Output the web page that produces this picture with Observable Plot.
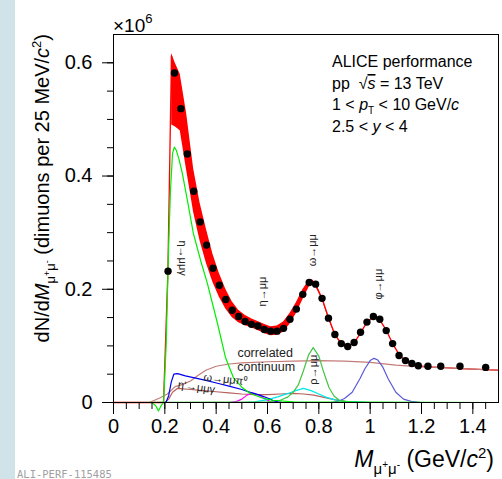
<!DOCTYPE html>
<html><head><meta charset="utf-8">
<script src="https://cdn.jsdelivr.net/npm/d3@7"></script>
<script src="https://cdn.jsdelivr.net/npm/@observablehq/plot@0.6"></script>
<style>
html,body{margin:0;padding:0;background:#fff;}
#chart{position:relative;width:502px;height:479px;overflow:hidden;}
</style></head><body><div id="chart"></div>
<script>
// ---- data (values in units of 10^6 dimuons per 25 MeV/c^2) ----
const binM = [0.2125,0.2375,0.2625,0.2875,0.3125,0.3375,0.3625,0.3875,0.4125,0.4375,0.4625,0.4875,0.5125,0.5375,0.5625,0.5875,0.6125,0.6375,0.6625,0.6875,0.7125,0.7375,0.7625,0.7875,0.8125,0.8375,0.8625,0.8875,0.9125,0.9375,0.9625,0.9875,1.0125,1.0375,1.0625,1.0875,1.1125,1.1375,1.1625,1.1875,1.225,1.275,1.35,1.45];
const binV = [0.232,0.582,0.519,0.439,0.373,0.319,0.278,0.237,0.207,0.182,0.163,0.152,0.143,0.138,0.135,0.129,0.126,0.126,0.131,0.147,0.165,0.191,0.212,0.209,0.184,0.149,0.120,0.104,0.099,0.106,0.124,0.142,0.152,0.147,0.127,0.104,0.083,0.074,0.069,0.065,0.064,0.064,0.064,0.062];

const fitM = [0,0.19,0.195,0.212,0.226,0.24,0.26,0.285,0.3125,0.3375,0.3625,0.3875,0.4125,0.4375,0.4625,0.4875,0.5125,0.5375,0.5625,0.5875,0.6125,0.6375,0.6625,0.6875,0.7125,0.7375,0.7625,0.7875,0.8125,0.8375,0.8625,0.8875,0.9125,0.9375,0.9625,0.9875,1.0125,1.0375,1.0625,1.0875,1.1125,1.1375,1.1625,1.1875,1.225,1.275,1.35,1.45,1.5];
const fitV = [0,0,0,0.232,0.612,0.545,0.53,0.46,0.373,0.318,0.275,0.237,0.207,0.183,0.164,0.152,0.145,0.140,0.135,0.130,0.126,0.127,0.133,0.148,0.167,0.190,0.210,0.208,0.184,0.150,0.120,0.104,0.099,0.105,0.123,0.142,0.151,0.146,0.128,0.104,0.085,0.074,0.068,0.065,0.063,0.062,0.060,0.058,0.057];

const bandM  = [0.195,0.212,0.2255,0.227,0.24,0.26,0.285,0.3125,0.3375,0.3625,0.3875,0.4125,0.4375,0.4625,0.4875,0.5125,0.5375,0.5625,0.5875,0.6125,0.6375,0.6625,0.6875,0.7125,0.7375,0.7625,0.775,0.7875,0.8125,0.8375,0.8625,0.8875,0.9125,0.94];
const bandHi = [0,0.232,0.612,0.616,0.60,0.58,0.51,0.412,0.352,0.305,0.262,0.228,0.200,0.178,0.163,0.154,0.148,0.143,0.138,0.134,0.135,0.142,0.157,0.176,0.199,0.216,0.217,0.211,0.186,0.152,0.121,0.105,0.100,0.106];
const bandLo = [0,0.232,0.608,0.49,0.487,0.48,0.41,0.335,0.285,0.245,0.212,0.186,0.165,0.15,0.141,0.136,0.132,0.127,0.122,0.118,0.119,0.124,0.138,0.157,0.181,0.204,0.209,0.205,0.182,0.148,0.119,0.103,0.098,0.104];

// eta -> mu mu gamma (Dalitz)
const etaDalM = [0,0.15,0.165,0.175,0.185,0.195,0.205,0.215,0.222,0.23,0.237,0.245,0.255,0.268,0.288,0.311,0.34,0.366,0.405,0.436,0.467,0.5,0.533,0.58,0.62,0.7,1.5];
const etaDalV = [0,0,-0.006,-0.015,-0.006,0.0,0.1,0.28,0.375,0.44,0.451,0.445,0.43,0.405,0.357,0.299,0.25,0.21,0.14,0.08,0.044,0.027,0.016,0.008,0.004,0.001,0];
// rho -> mu mu
const rhoM = [0,0.6,0.65,0.68,0.70,0.72,0.74,0.76,0.778,0.80,0.82,0.84,0.86,0.88,0.92,0.95,1.5];
const rhoV = [0,0.001,0.004,0.010,0.018,0.031,0.056,0.084,0.097,0.082,0.052,0.026,0.011,0.004,0.001,0,0];
// omega -> mu mu pi0
const omDalM = [0,0.2,0.205,0.215,0.225,0.235,0.25,0.28,0.32,0.36,0.405,0.45,0.5,0.533,0.57,0.6,0.62,0.64,0.66,1.5];
const omDalV = [0,0,0.001,0.012,0.036,0.05,0.051,0.047,0.043,0.039,0.034,0.029,0.023,0.018,0.013,0.008,0.004,0.001,0,0];
// eta' -> mu mu gamma
const etapM = [0,0.2,0.215,0.23,0.25,0.3,0.35,0.4,0.45,0.5,0.55,0.6,0.65,0.7,0.74,0.78,0.82,0.86,0.9,0.95,1.0,1.5];
const etapV = [0,0,0.006,0.018,0.025,0.023,0.021,0.019,0.017,0.015,0.014,0.014,0.015,0.016,0.015,0.013,0.009,0.005,0.002,0.0005,0,0];
// correlated continuum
const contM = [0,0.14,0.18,0.21,0.24,0.27,0.30,0.33,0.36,0.40,0.45,0.5,0.6,0.7,0.8,0.9,1.0,1.1,1.2,1.3,1.4,1.5];
const contV = [0,0,0.008,0.015,0.028,0.032,0.038,0.048,0.057,0.064,0.068,0.070,0.072,0.073,0.074,0.073,0.071,0.066,0.063,0.061,0.059,0.057];
// eta -> mu mu
const etaM = [0,0.45,0.48,0.5,0.52,0.535,0.55,0.57,0.59,0.61,0.63,0.66,1.5];
const etaV = [0,0,0.002,0.006,0.013,0.016,0.016,0.012,0.006,0.002,0.0005,0,0];
// cyan component
const cyanM = [0,0.5,0.55,0.6,0.64,0.68,0.71,0.74,0.77,0.8,0.83,0.86,0.9,0.95,1.0,1.5];
const cyanV = [0,0,0.001,0.005,0.010,0.016,0.021,0.025,0.021,0.015,0.009,0.005,0.002,0.001,0,0];
// phi -> mu mu
const phiM = [0,0.85,0.88,0.9,0.93,0.96,0.98,1.0,1.015,1.03,1.05,1.07,1.1,1.13,1.16,1.2,1.5];
const phiV = [0,0,0.003,0.007,0.018,0.042,0.06,0.074,0.078,0.075,0.062,0.042,0.018,0.006,0.002,0,0];

const xTicks = [0,0.2,0.4,0.6,0.8,1,1.2,1.4];
const yTicks = [0,0.2,0.4,0.6];

// annotations
const decayText  = ["η→μμγ","η→μμ","ω→μμ","φ→μμ","ρ→μμ","ω→μμπ⁰","η'→μμγ"];
const decayM     = [0.268,0.580,0.774,1.031,0.778,0.436,0.323];
const decayV     = [0.255,0.196,0.269,0.209,0.058,0.041,0.027];
const decayAngle = [90,-90,-90,-90,-90,6,8];
const contText = ["correlated","continuum"];
const contLabM = [0.591,0.595];
const contLabV = [0.088,0.062];

// ---- build ----
const zip = (xs, ys) => xs.map((x,i) => ({x, y: ys[i]}));
const points = zip(binM, binV);
const fit = zip(fitM, fitV);
const band = bandM.map((m,i) => ({x: m, lo: bandLo[i], hi: bandHi[i]}));
const minorX = d3.range(0, 1.5, 0.05).map(d => +d.toFixed(2));
const minorY = d3.range(0, 0.65, 0.05).map(d => +d.toFixed(2));
const ff = "'Liberation Sans', Arial, Helvetica, sans-serif";

const curves = [
  [contM, contV, "#c47c78"],
  [etapM, etapV, "#b8625e"],
  [etaM, etaV, "#ff00ff"],
  [cyanM, cyanV, "#00e8e8"],
  [phiM, phiV, "#5a5ad8"],
  [rhoM, rhoV, "#44c444"],
  [omDalM, omDalV, "#0000ee"],
  [etaDalM, etaDalV, "#00ee00"]
];

const decays = decayText.map((t,i) => ({t, x: decayM[i], y: decayV[i], r: decayAngle[i]}));
const contLabels = contText.map((t,i) => ({t, x: contLabM[i], y: contLabV[i]}));

const plot = Plot.plot({
  width: 502, height: 479,
  marginLeft: 113, marginRight: 4, marginTop: 34, marginBottom: 77,
  x: {domain: [0, 1.5]},
  y: {domain: [0, 0.65]},
  style: {fontFamily: ff, fontSize: "20px", color: "black", background: "white", overflow: "visible"},
  marks: [
    Plot.areaY(band, {x: "x", y1: "lo", y2: "hi", fill: "#ff0000"}),
    Plot.line(fit, {x: "x", y: "y", stroke: "#ff0000", strokeWidth: 1.3}),
    ...curves.map(([m, v, c]) => Plot.line(zip(m, v), {x: "x", y: "y", stroke: c, strokeWidth: 1.2})),
    Plot.dot(points, {x: "x", y: "y", r: 3.7, fill: "black", stroke: "none"}),
    Plot.text(decays, {x: "x", y: "y", text: "t", rotate: "r", fontSize: 11, fill: "#222"}),
    Plot.text(contLabels, {x: "x", y: "y", text: "t", fontSize: 12.5, fill: "#222"}),
    Plot.axisX({ticks: minorX, tickSize: 7, tickFormat: () => "", label: null}),
    Plot.axisX({ticks: xTicks, tickSize: 12, tickPadding: 4, fontSize: 20, tickFormat: d => String(d), label: null}),
    Plot.axisY({ticks: minorY, tickSize: 6, tickFormat: () => "", label: null}),
    Plot.axisY({ticks: yTicks, tickSize: 11, tickPadding: 10, fontSize: 20, tickFormat: d => String(d), label: null}),
    Plot.frame({stroke: "black", strokeWidth: 1})
  ]
});

document.getElementById("chart").appendChild(plot);
const svg = d3.select(plot);
svg.insert("rect", ":first-child").attr("x", 0).attr("y", 0).attr("width", 15).attr("height", 479).attr("fill", "#cfe3e9");

// y-axis title
svg.append("text")
  .attr("transform", "translate(49,34) rotate(-90)")
  .attr("text-anchor", "end").attr("font-size", 20).attr("fill", "black")
  .html('dN/d<tspan font-style="italic">M</tspan><tspan font-size="13" dy="6">μ</tspan><tspan font-size="9" dy="-5">+</tspan><tspan font-size="13" dy="5">μ</tspan><tspan font-size="9" dy="-5">-</tspan><tspan dy="-1"> (dimuons per 25 MeV/</tspan><tspan font-style="italic">c</tspan><tspan font-size="13" dy="-8">2</tspan><tspan dy="8">)</tspan>');

// x-axis title
svg.append("text")
  .attr("x", 494).attr("y", 467)
  .attr("text-anchor", "end").attr("font-size", 23).attr("fill", "black")
  .html('<tspan font-style="italic">M</tspan><tspan font-size="15" dy="7">μ</tspan><tspan font-size="10" dy="-6">+</tspan><tspan font-size="15" dy="6">μ</tspan><tspan font-size="10" dy="-6">-</tspan><tspan dy="-1"> (GeV/</tspan><tspan font-style="italic">c</tspan><tspan font-size="15" dy="-9">2</tspan><tspan dy="9">)</tspan>');

// exponent
svg.append("text").attr("x", 113).attr("y", 32).attr("font-size", 19).attr("fill", "black")
  .attr("text-anchor", "start")
  .html('×10<tspan font-size="13" dy="-9">6</tspan>');

// ALICE block
const info = [
  'ALICE performance',
  'pp  √<tspan font-style="italic" style="text-decoration: overline">s</tspan> = 13 TeV',
  '1 &lt; <tspan font-style="italic">p</tspan><tspan font-size="10" dy="4">T</tspan><tspan dy="-4"> &lt; 10 GeV/</tspan><tspan font-style="italic">c</tspan>',
  '2.5 &lt; <tspan font-style="italic">y</tspan> &lt; 4'
];
const infoY = [67, 89, 110, 132];
info.forEach((h, i) => {
  svg.append("text").attr("x", 332).attr("y", infoY[i]).attr("font-size", 16)
    .attr("text-anchor", "start").attr("fill", "black").html(h);
});

// reference id
svg.append("text").attr("x", 17).attr("y", 478).attr("font-size", 10.5)
  .attr("text-anchor", "start")
  .attr("font-family", "'DejaVu Sans Mono', monospace").attr("fill", "#a0a0a0")
  .text("ALI-PERF-115485");
</script></body></html>
